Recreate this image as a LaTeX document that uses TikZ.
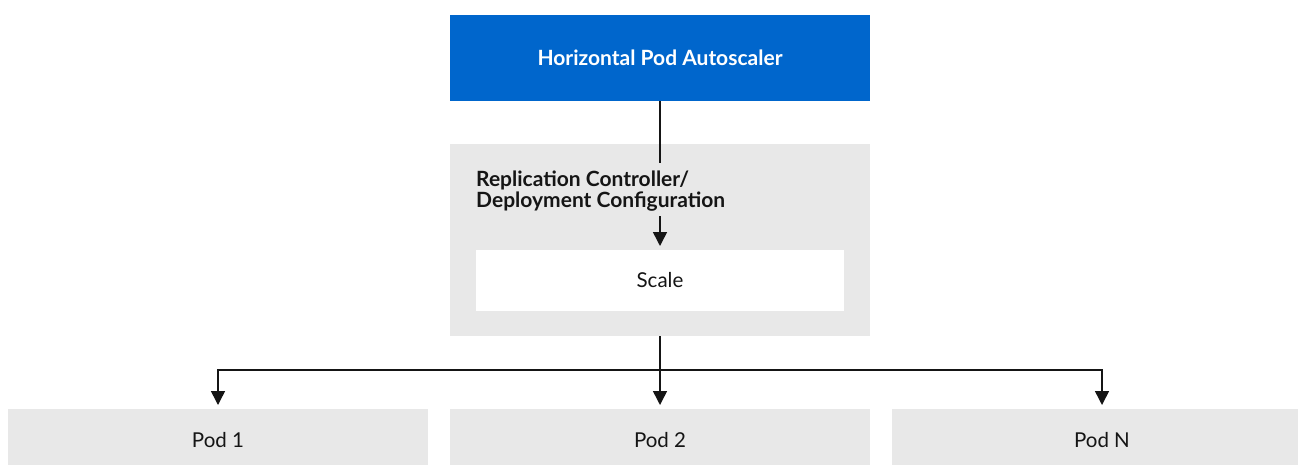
\documentclass[tikz,border=0pt]{standalone}
\usepackage{fontspec}
\setmainfont{Lato}
\usetikzlibrary{arrows.meta}
\definecolor{rhblue}{HTML}{0066CC}
\definecolor{rhgray}{HTML}{E8E8E8}
\definecolor{rhblack}{HTML}{151515}
\tikzset{
  box/.style={rectangle, inner sep=0pt, outer sep=0pt, anchor=center},
  podbox/.style={box, fill=rhgray, minimum width=420pt, minimum height=62pt, font=\fontsize{20.5}{24}\selectfont, text=rhblack},
  conn/.style={draw=rhblack, line width=1.5pt},
  arr/.style={conn, -{Triangle[length=14pt,width=14pt]}, shorten >=4pt},
}
\begin{document}
\begin{tikzpicture}[x=1pt,y=-1pt]
\useasboundingbox (0,0) rectangle (1298,464);
\begin{scope}
\clip (0,0) rectangle (1298,464);
\node[box, fill=rhblue, minimum width=420pt, minimum height=86pt, text=white, font=\fontsize{21}{25}\selectfont\bfseries] (hpa) at (660,58) {Horizontal Pod Autoscaler};
\node[box, fill=rhgray, minimum width=420pt, minimum height=192pt] (rc) at (660,240) {};
\node[anchor=west, inner sep=0pt, align=left, text=rhblack, font=\fontsize{21}{21}\selectfont\bfseries] (rctitle) at (476,191) {Replication Controller/\\Deployment Configuration};
\node[box, fill=white, minimum width=368pt, minimum height=61pt, font=\fontsize{20.5}{24}\selectfont, text=rhblack] (scale) at (660,280.5) {Scale};
\node[podbox] (pod1) at (218,440) {Pod 1};
\node[podbox] (pod2) at (660,440) {Pod 2};
\node[podbox] (podn) at (1102,440) {Pod N};
\end{scope}
\coordinate (hpaend) at (660,163);
\coordinate (scalestart) at (660,216);
\coordinate (junction) at (660,370);
\draw[conn] (hpa.south) -- (hpaend);
\draw[arr] (scalestart) -- (scale.north);
\draw[conn] (rc.south) -- (junction);
\draw[arr] (junction) -| (pod1.north);
\draw[arr] (junction) -- (pod2.north);
\draw[arr] (junction) -| (podn.north);
\end{tikzpicture}
\end{document}
